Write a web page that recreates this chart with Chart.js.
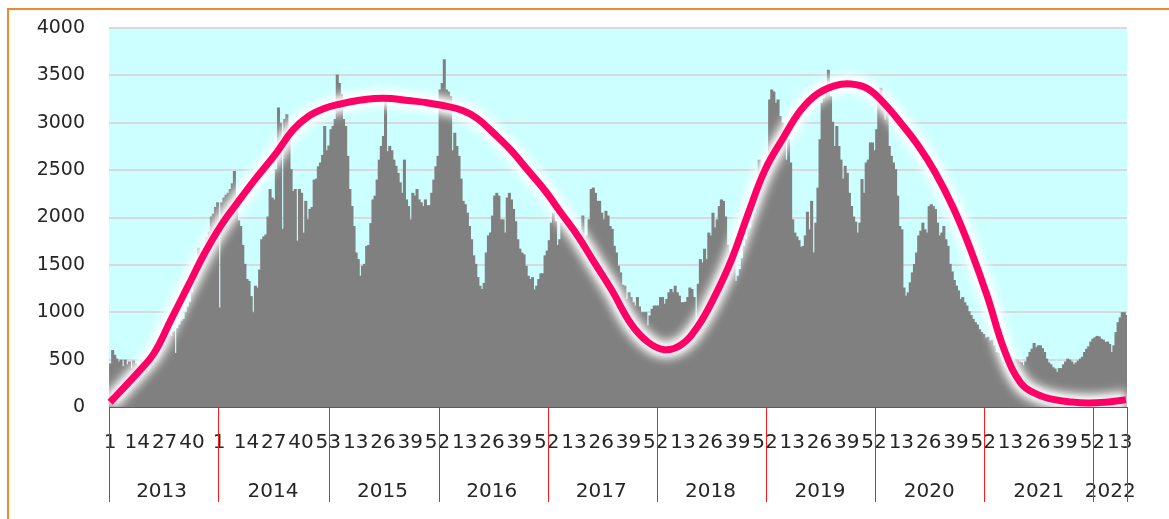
<!DOCTYPE html>
<html>
<head>
<meta charset="utf-8">
<script src="https://cdn.jsdelivr.net/npm/chart.js@4.4.1/dist/chart.umd.min.js"></script>
<style>
  html,body{margin:0;padding:0;background:#fff;overflow:hidden}
  #wrap{position:relative;width:1169px;height:519px;overflow:hidden}
  #frame{position:absolute;left:7px;top:8px;width:1300px;height:700px;border:2px solid #ee8a2d}
  #c{position:absolute;left:0;top:0}
</style>
</head>
<body>
<div id="wrap"><div id="frame"></div><canvas id="c" width="1169" height="519"></canvas></div>
<script>
// weekly counts, one array per year (2014 has 53 weeks, 2022 only 16 so far)
const years = [2013, 2014, 2015, 2016, 2017, 2018, 2019, 2020, 2021, 2022];
const w2013 = [450,590,540,500,470,490,420,490,440,470,400,480,450,420,390,480,490,470,520,540,560,590,610,640,660,700,680,720,760,740,790,560,820,860,900,920,990,1050,1100,1200,1300,1420,1670,1560,1600,1640,1780,1840,2000,2030,2100,2150];
const w2014 = [1040,2150,2200,2230,2250,2290,2350,2480,2100,1960,1900,1700,1500,1340,1320,1160,990,1270,1250,1440,1760,1790,1810,2000,2290,2200,2180,2500,3150,2990,1870,3030,3080,2920,2500,2270,2290,1745,2290,2250,1830,2165,1970,2080,2100,2390,2400,2530,2570,2650,2955,2700,2750];
const w2015 = [2920,2955,3030,3500,3410,3290,3030,2955,2640,2290,2110,1900,1620,1550,1375,1480,1500,1690,1700,1930,2180,2220,2390,2600,2745,2850,3235,2690,2745,2700,2600,2535,2460,2360,2250,2600,2180,2110,1970,2250,2220,2290,2180,2150,2110,2180,2120,2120,2250,2390,2530,2640];
const w2016 = [3340,3410,3660,3340,3320,3270,2700,2885,2745,2640,2400,2165,2130,2040,1900,1760,1590,1500,1360,1270,1235,1300,1620,1800,1830,2010,2220,2250,2220,1970,1970,1830,2200,2250,2180,2080,1950,1760,1660,1620,1600,1480,1375,1340,1360,1230,1270,1340,1400,1400,1590,1640];
const w2017 = [1750,1935,2040,1950,1700,1760,1935,1900,1935,1915,1870,1850,1760,1730,1700,1800,2010,1780,1800,1970,2290,2305,2250,2165,2165,2040,1970,2060,2010,1900,1870,1690,1620,1480,1410,1280,1270,1130,1200,1150,1095,1060,1150,1050,990,990,990,850,955,1025,1060,1060];
const w2018 = [1060,1150,1150,1080,1130,1200,1235,1200,1270,1200,1165,1095,1095,1100,1150,1250,1235,1150,885,1290,1550,1515,1660,1550,1830,1800,2040,1885,1970,2110,2180,2165,2000,1700,1620,1620,1690,1320,1375,1445,1560,1690,1760,1870,1880,1970,2040,2165,2600,2430,2530,2570];
const w2019 = [2600,3235,3340,3320,3200,3235,3060,2990,2850,2600,2815,2570,1970,1830,1790,1750,1680,1690,1800,2050,1865,2165,1620,1935,2305,2815,3200,3250,3375,3550,3270,3000,2745,2955,2745,2600,2400,2535,2460,2250,2110,2000,1945,1830,1935,2395,2250,2570,2600,2780,2780,2700];
const w2020 = [2920,3270,3360,3200,3025,3110,2745,2640,2570,2500,2220,1900,1865,1250,1165,1200,1305,1410,1500,1620,1800,1850,1935,1865,1830,2110,2130,2110,2080,1935,1800,1830,1900,1760,1690,1500,1420,1330,1270,1220,1130,1150,1095,1060,1000,960,920,885,860,810,780,760];
const w2021 = [720,730,690,700,640,570,560,520,470,430,410,395,420,465,500,490,470,460,430,470,520,570,605,665,620,640,640,610,570,500,460,440,410,395,360,400,400,440,470,500,490,470,440,460,480,500,520,570,605,630,680,710];
const w2022 = [725,740,735,710,700,675,680,655,570,640,780,885,935,990,990,960];
const yearly = [w2013, w2014, w2015, w2016, w2017, w2018, w2019, w2020, w2021, w2022];

// trend curve: global week index -> value
const trendWeek = [0,13,21,29,37,45,53,61,69,79,87,94,102,110,118,126,134,142,150,158,168,175,183,191,199,207,215,223,231,239,248,256,264,272,280,288,296,304,312,321,329,337,345,353,361,369,377,385,393,402,410,418,426,434,442,450,458,466,474,484];
const trendVal  = [50,358,570,920,1270,1620,1920,2165,2400,2675,2920,3060,3150,3200,3235,3255,3255,3235,3215,3185,3130,3045,2885,2710,2500,2290,2045,1800,1515,1235,885,690,605,655,850,1165,1550,2040,2500,2850,3130,3305,3390,3410,3360,3200,2990,2760,2480,2090,1660,1165,605,250,130,77,53,42,50,77];

const yTicks = [0, 500, 1000, 1500, 2000, 2500, 3000, 3500, 4000];

// flatten
const weekLabels = [], cases = [], yearStart = [], yearMid = [];
yearly.forEach((arr) => {
  yearStart.push(weekLabels.length);
  yearMid.push(weekLabels.length + Math.floor((arr.length - 1) / 2));
  arr.forEach((v, k) => { weekLabels.push(String(k + 1)); cases.push(v); });
});
const WEEKS = weekLabels.length;
const trend = trendWeek.map((w, i) => ({x: w, y: trendVal[i]}));

const FONT = "'DejaVu Sans', sans-serif";
const TXT = '#262626';

const plotBg = {
  id: 'plotBg',
  beforeDraw(chart){
    const {ctx, chartArea:a} = chart;
    ctx.save(); ctx.fillStyle = '#ccffff';
    ctx.fillRect(a.left, a.top, a.right - a.left, a.bottom - a.top);
    ctx.restore();
  }
};
// soft white halo under the trend line (dataset 1 is blurred)
const glow = {
  id: 'glow',
  beforeDatasetDraw(chart, args){
    if (args.meta.type !== 'line') return;
    const c = chart.ctx; c.save();
    if (args.index === 1) { c.filter = 'blur(5px)'; }
    else { c.shadowColor = 'rgba(255,255,255,0.9)'; c.shadowBlur = 6; }
  },
  afterDatasetDraw(chart, args){
    if (args.meta.type !== 'line') return;
    chart.ctx.restore();
  }
};
const yearLines = {
  id: 'yearLines',
  afterDraw(chart){
    const {ctx, chartArea:a, scales:{x}} = chart;
    const half = (x.getPixelForValue(1) - x.getPixelForValue(0)) / 2;
    ctx.save(); ctx.strokeStyle = '#ff1a1a'; ctx.lineWidth = 1;
    ctx.beginPath();
    ctx.moveTo(a.left, Math.round(a.bottom) + 0.5); ctx.lineTo(a.right, Math.round(a.bottom) + 0.5);
    yearStart.concat([WEEKS]).forEach(i => {
      const px = Math.round(x.getPixelForValue(i) - half) + 0.5;
      ctx.moveTo(px, a.bottom); ctx.lineTo(px, a.bottom + 95);
    });
    ctx.stroke(); ctx.restore();
  }
};

new Chart(document.getElementById('c'), {
  data: {
    labels: weekLabels,
    datasets: [
      {type:'line', data: trend, xAxisID:'xt', borderColor:'#ff0066', borderWidth:7,
       pointRadius:0, tension:0.4, order:0, clip:false},
      {type:'line', data: trend, xAxisID:'xt', borderColor:'rgba(255,255,255,0.95)', borderWidth:18,
       pointRadius:0, tension:0.4, order:1, clip:false},
      {type:'bar', data: cases, backgroundColor:'#808080', borderWidth:0, inflateAmount:1,
       barPercentage:1, categoryPercentage:1, order:2}
    ]
  },
  options: {
    responsive:false, animation:false, devicePixelRatio:1,
    layout:{padding:{left:0, top:28, right:42, bottom:0}},
    plugins:{legend:{display:false}, tooltip:{enabled:false}},
    scales:{
      x:{
        type:'category', position:'bottom',
        grid:{display:false, drawTicks:false}, border:{display:false},
        ticks:{autoSkip:false, maxRotation:0, minRotation:0, padding:24, color:TXT,
          font:{family:FONT, size:20},
          callback(v, i){ return i % 13 === 0 ? this.getLabelForValue(v) : ''; }},
        afterFit(s){ s.height = 50; }
      },
      xYear:{
        type:'category', position:'bottom', labels: weekLabels,
        grid:{display:false, drawTicks:false}, border:{display:false},
        ticks:{autoSkip:false, maxRotation:0, minRotation:0, padding:23, color:TXT,
          font:{family:FONT, size:20},
          callback(v, i){ const k = yearMid.indexOf(i); return k >= 0 ? String(years[k]) : ''; }},
        afterFit(s){ s.height = 62; }
      },
      xt:{type:'linear', display:false, min:-0.5, max:WEEKS - 0.5},
      y:{
        min:0, max:4000,
        afterBuildTicks(s){ s.ticks = yTicks.map(v => ({value:v})); },
        grid:{color:'#d9d9d9', lineWidth:2, drawTicks:false}, border:{display:false},
        ticks:{padding:24, color:TXT, font:{family:FONT, size:19}, callback:(v) => String(v)},
        afterFit(s){ s.width = 109; s.paddingTop = 0; s.paddingBottom = 0; }
      }
    }
  },
  plugins:[plotBg, glow, yearLines]
});
</script>
</body>
</html>
